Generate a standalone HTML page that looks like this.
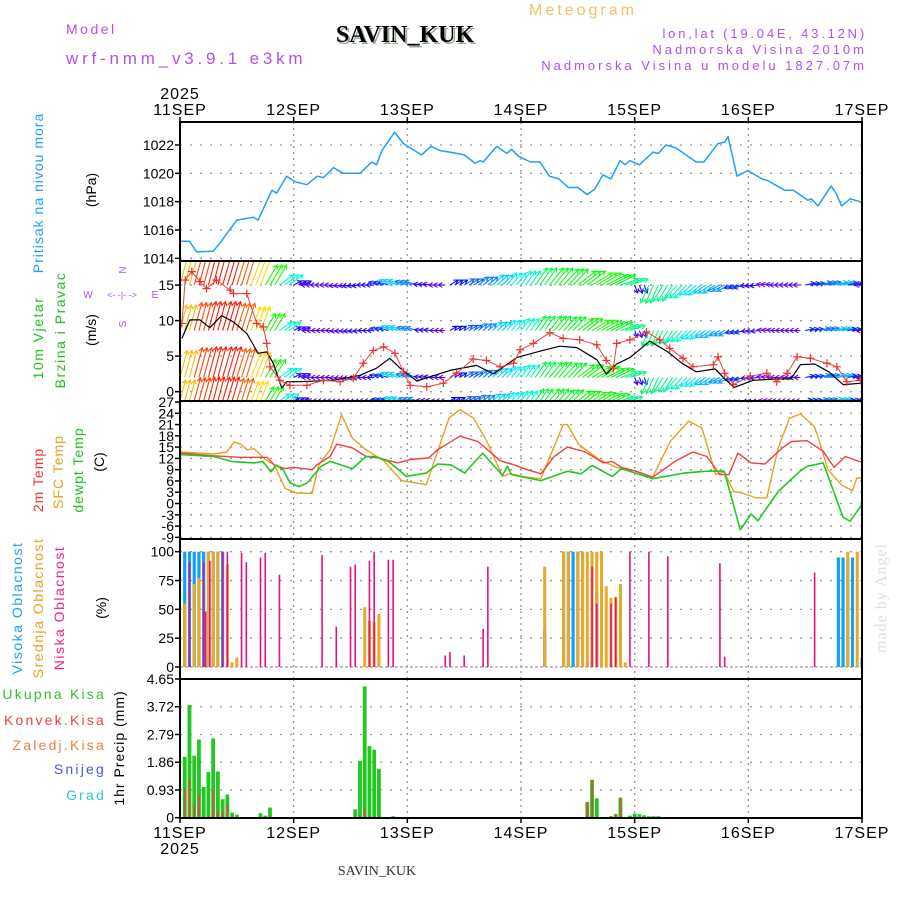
<!DOCTYPE html>
<html><head><meta charset="utf-8"><title>Meteogram SAVIN_KUK</title>
<style>
html,body{margin:0;padding:0;background:#fff;}
svg{display:block;font-family:"Liberation Sans",sans-serif;}
.serif{font-family:"Liberation Serif",serif;}
</style></head>
<body>
<svg id="chart" width="900" height="900" viewBox="0 0 900 900" xmlns="http://www.w3.org/2000/svg">
  <g>
    <text x="583" y="15" font-size="16" fill="#f0c070" text-anchor="middle" letter-spacing="3">Meteogram</text>
    <text x="66" y="34" font-size="14" fill="#b050f0" letter-spacing="2.5">Model</text>
    <text x="66" y="64" font-size="17" fill="#b050f0" letter-spacing="3.8">wrf-nmm_v3.9.1 e3km</text>
    <text class="serif" x="407" y="44" font-size="24" font-weight="bold" fill="#9a9" text-anchor="middle">SAVIN_KUK</text>
    <text class="serif" x="405" y="42" font-size="24" font-weight="bold" fill="#000" text-anchor="middle">SAVIN_KUK</text>
    <text x="867" y="38" font-size="13" fill="#b050f0" text-anchor="end" letter-spacing="2.8">lon,lat (19.04E, 43.12N)</text>
    <text x="867" y="54" font-size="13" fill="#b050f0" text-anchor="end" letter-spacing="3">Nadmorska Visina 2010m</text>
    <text x="867" y="70" font-size="13" fill="#b050f0" text-anchor="end" letter-spacing="3">Nadmorska Visina u modelu 1827.07m</text>
  </g>
  <g>
    <text transform="translate(43,193) rotate(-90)" font-size="14" fill="#20a0f0" text-anchor="middle" letter-spacing="1">Pritisak na nivou mora</text>
    <text transform="translate(96,190) rotate(-90)" font-size="14" fill="#000" text-anchor="middle">(hPa)</text>
    <text transform="translate(43,338) rotate(-90)" font-size="14" fill="#20c020" text-anchor="middle" letter-spacing="1.5">10m Vjetar</text>
    <text transform="translate(65,330) rotate(-90)" font-size="14" fill="#20c020" text-anchor="middle" letter-spacing="1.5">Brzina i Pravac</text>
    <text transform="translate(96,330) rotate(-90)" font-size="14" fill="#000" text-anchor="middle">(m/s)</text>
    <g fill="#b050f0" font-size="10" text-anchor="middle">
      <text x="88" y="298">W</text><text x="155" y="298">E</text>
      <text transform="translate(126,270) rotate(-90)">N</text>
      <text transform="translate(126,324) rotate(-90)">S</text>
      <text x="122" y="298" font-size="9">&lt;- -|- -&gt;</text>
    </g>
    <text transform="translate(43,480) rotate(-90)" font-size="14" fill="#f03030" text-anchor="middle" letter-spacing="1">2m Temp</text>
    <text transform="translate(63,472) rotate(-90)" font-size="14" fill="#e8a020" text-anchor="middle" letter-spacing="1">SFC Temp</text>
    <text transform="translate(83,470) rotate(-90)" font-size="14" fill="#20c020" text-anchor="middle" letter-spacing="1">dewpt Temp</text>
    <text transform="translate(104,462) rotate(-90)" font-size="14" fill="#000" text-anchor="middle">(C)</text>
    <text transform="translate(22,608) rotate(-90)" font-size="14" fill="#20a0f0" text-anchor="middle" letter-spacing="1.5">Visoka Oblacnost</text>
    <text transform="translate(43,608) rotate(-90)" font-size="14" fill="#e8a020" text-anchor="middle" letter-spacing="1.5">Srednja Oblacnost</text>
    <text transform="translate(64,608) rotate(-90)" font-size="14" fill="#f0208a" text-anchor="middle" letter-spacing="1.5">Niska Oblacnost</text>
    <text transform="translate(106,608) rotate(-90)" font-size="14" fill="#000" text-anchor="middle">(%)</text>
    <g font-size="14" text-anchor="end" letter-spacing="2.2">
      <text x="106" y="699" fill="#30c030">Ukupna  Kisa</text>
      <text x="106" y="725" fill="#f04040">Konvek.Kisa</text>
      <text x="106" y="750" fill="#f08040">Zaledj.Kisa</text>
      <text x="106" y="774" fill="#5050f0">Snijeg</text>
      <text x="106" y="800" fill="#30c8c8">Grad</text>
    </g>
    <text transform="translate(124,748) rotate(-90)" font-size="14" fill="#000" text-anchor="middle" letter-spacing="1">1hr Precip (mm)</text>
    <text class="serif" transform="translate(886,598) rotate(-90)" font-size="16" fill="#d8e4d8" text-anchor="middle" letter-spacing="1">made by Angel</text>
    <text class="serif" x="377" y="875" font-size="14" fill="#333" text-anchor="middle">SAVIN_KUK</text>
  </g>
  <g id="plot"></g>
</svg>
<script>
// ---------- data ----------
const dayLabels = ["11SEP","12SEP","13SEP","14SEP","15SEP","16SEP","17SEP"];
const yearLabel = "2025";
const pressureTicks = [1014,1016,1018,1020,1022];
const windTicks = [0,5,10,15];
const tempTicks = [-9,-6,-3,0,3,6,9,12,15,18,21,24,27];
const cloudTicks = [0,25,50,75,100];
const precipTicks = [0,0.93,1.86,2.79,3.72,4.65];

const pressureHours = [0,2,3.5,7,8.5,10,12,15.5,16.5,17.6,19.4,20.4,22.5,24.3,26.8,29,30.3,32.4,34.5,38,40.5,41.5,42.6,45.3,47.2,51,53,55,57,60,62.3,63.4,64,66.9,69,70,71.5,74,76,78,80,82,84,86,87.6,89.3,91,92.9,94,95,97,99.9,101,102.6,104.7,109,110.6,113.6,115,115.7,117.6,119.9,122.9,124,127.7,129.5,132.6,133.3,134.7,137.5,138.5,139.7,141.5,143.6,144];
const pressureVals = [1015.2,1015.2,1014.45,1014.5,1015.1,1015.8,1016.7,1016.9,1016.7,1017.5,1018.8,1018.6,1019.8,1019.4,1019.2,1019.8,1019.7,1020.4,1020.0,1020.0,1020.8,1020.6,1021.6,1022.9,1022.1,1021.3,1021.9,1021.6,1021.5,1021.3,1020.7,1020.9,1020.8,1021.9,1021.4,1021.7,1021.2,1020.8,1020.8,1019.8,1019.6,1019.0,1019.0,1018.5,1018.9,1019.9,1019.6,1020.9,1020.6,1020.9,1020.6,1021.5,1021.4,1022.0,1021.8,1020.8,1020.8,1022.1,1022.2,1022.6,1019.8,1020.2,1019.6,1019.5,1018.8,1018.8,1018.1,1018.2,1017.7,1019.1,1018.6,1017.7,1018.2,1018.0,1017.9];

const speedHours = [0.4,2.1,4.2,6.3,8.8,11.3,14.1,16.5,18.3,19.7,21.5,22.5,25.3,32.4,38,41.5,44.3,46.5,50,57,62.6,66.2,71.1,76,80.2,83.8,88,90,92.2,95,99.2,103,106,109,113,115,117,121,126,129,131,134,137,140,144];
const speedVals = [7.5,10.1,10.1,9.0,10.7,9.8,8.2,5.4,5.6,4.0,0.5,1.4,1.4,1.6,2.3,3.3,4.7,3.3,1.5,3.0,3.7,2.5,4.8,5.7,6.4,6.2,4.5,2.5,3.9,4.8,7.1,5.6,4.0,2.8,3.2,1.8,0.6,1.6,1.8,1.8,3.8,3.9,2.8,1.0,1.2];
const gustHours = [0.4,1.1,2.5,4.2,5.6,7.7,10.6,11.3,14.1,16.2,17.6,18.3,19,21.1,23.2,26.8,30.3,33.8,36.6,38.7,40.8,43,45.4,47.2,48.6,52.1,55.6,58.4,61.9,64.7,67.6,70.4,71.8,74.6,78.1,80.9,84.4,88,90,91.5,92.2,95,98.5,101.3,103.4,106.2,108.3,112.6,113.6,115,116.8,120.4,123.9,126,128.2,130.3,133.1,136.6,138.7,140.8,143.6];
const gustVals = [9.6,15.7,16.9,15.5,14.5,15.7,14.3,13.8,13.8,9.6,9.1,6.8,3.5,1.6,0.9,0.9,1.6,1.4,1.9,4.0,5.8,6.3,5.4,2.8,0.9,0.7,1.2,2.6,4.6,4.4,3.5,4.0,5.9,6.8,8.3,7.5,7.3,6.6,4.4,3.3,6.8,7.3,8.4,7.3,6.1,4.7,3.5,3.8,4.9,2.6,1.0,2.2,2.6,1.4,2.6,4.9,4.7,4.0,3.5,1.4,1.6];

const windHours = [0,3,6,9,12,15,18,21,24,27,30,33,36,39,42,45,48,51,54,57,60,63,66,69,72,75,78,81,84,87,90,93,96,99,102,105,108,111,114,117,120,123,126,129,132,135,138,141,144];
const windU = [8,9,9,10,10,11,12,14,8,-7,-7,-7,-8,-8,-10,-14,-12,-8,-7,8,10,10,11,10,10,12,14,15,18,20,20,18,3,-8,-10,-12,-12,-12,-12,-10,-8,-6,-7,-7,10,12,14,10,-7];
const windV = [30,33,34,34,32,28,20,10,4,0,0,-1,-1,0,3,5,4,1,0,5,6,8,10,12,14,17,17,16,14,12,10,6,-8,-18,-16,-13,-10,-8,-6,-3,-1,1,0,0,2,3,3,2,0];
const windRowBase = [15,8.6,2,-1.3];
const windRowScale = [1,0.85,0.9,0.7];

const t2Hours = [0,7.1,12.8,18.4,19.9,22.2,24.1,27.9,28.9,31.7,33.1,36.4,39.3,42.1,45.9,48.7,52.5,54.4,59.1,62.9,67.6,70.5,73.3,76.2,79,81.8,85.6,89.4,91.3,93.2,96,99.8,104.5,108.3,111.2,114,115.9,117.8,120.6,123.5,127.2,129.1,132.4,135.8,138.1,140.5,143.3,144];
const t2Vals = [13.4,12.7,12.3,12.3,10.3,9.3,9.6,9.0,10.3,12.5,15.8,14.8,12.5,12.1,10.8,11.7,12.1,14.3,17.9,16.5,11.4,10.3,9.0,7.9,12.5,15.0,13.7,10.8,11.2,9.6,8.7,7.0,11.2,13.7,12.5,7.7,7.7,13.4,10.8,10.5,14.8,16.5,16.7,13.9,9.6,12.5,11.2,11.1];
const sfcHours = [0,7.1,9.9,11.4,12.8,14.2,15.6,18,19.9,22.2,24.6,27.9,29.3,31.7,34.1,36.4,39.3,43,46.8,52,54.4,56.8,59.1,62,64.8,68.1,69.5,73.3,76.2,80.9,81.8,84.2,88.5,92.2,96,99.8,103.5,107.4,110.2,113.1,114.9,116.9,118.7,121.6,123.9,126.3,128.7,131,133.9,134.8,136.8,139.6,142,142.9,144];
const sfcVals = [13.7,13.2,13.7,16.4,15.8,14.3,14.6,11.7,10.3,4.0,2.8,2.7,10.3,14.3,23.6,17.4,14.3,11.4,6.1,5.0,13.9,22.7,25.0,22.7,16.5,7.2,7.9,7.0,6.6,21.0,21.0,15.7,11.7,9.6,8.7,7.0,16.5,21.9,20.1,7.7,8.4,3.2,2.8,1.5,1.5,14.8,22.7,23.8,20.5,17.4,9.0,5.0,3.4,6.8,6.8];
const dewHours = [0,7.1,10.9,15.6,17.5,19.2,20.3,21.8,23.2,25.1,26.9,29.8,31.7,36.4,39.3,41.2,44,47.8,52,54.4,57.2,60.1,63.9,68.1,69.1,70,76.2,81.8,84.7,87,91.3,93.2,99.8,106.4,111.2,114.9,118.3,120.6,122,126.3,131,132.4,135.8,140,141.5,144];
const dewVals = [13.0,12.5,11.2,10.8,11.2,8.4,10.2,9.0,5.5,4.5,5.5,9.9,11.2,9.3,12.5,12.5,11.2,7.2,8.1,10.5,10.3,8.1,13.4,7.5,9.9,7.7,6.1,8.6,7.9,10.1,7.2,9.3,6.6,8.1,8.6,8.6,-7.0,-2.8,-4.6,3.2,8.7,9.9,10.8,-3.7,-4.7,-0.3];

const highCloudHours = [1,2,3,4,5,6,7,8,9,77,81,82,83,84,85,86,87,88,89,139,140,141,142,144];
const highCloudVals = [100,100,100,100,100,100,100,100,100,32,100,100,100,100,100,4,10,65,8,95,95,95,95,8];
const midCloudHours = [1,3,4,6,7,8,10,11,12,39,40,41,42,77,81,82,84,85,86,87,88,89,90,91,92,93,94,141,143];
const midCloudVals = [55,72,77,100,100,100,89,4,8,52,40,39,46,87,100,100,100,100,100,100,100,100,70,60,61,72,4,100,100];
const lowCloudHours = [2,5,5.4,6.3,9,10,13,14,17,18,21,30,33,36,37,40,41,44,45,56,57,60,64,65,87,88,91,92,95,99,103,114,115,134];
const lowCloudVals = [91,91,48,92,100,100,99,91,95,99,80,97,35,87,89,92,100,93,93,10,13,10,33,87,87,55,55,60,100,100,96,90,9,82];

const rainHours = [1,2,3,4,5,6,7,8,9,10,11,12,17,18,19,37,38,39,40,41,42,45,86,87,88,91,92,93,95,96,97,98,99,100,101];
const rainTotal = [2.04,3.78,2.08,2.62,1.03,1.53,2.66,1.55,0.62,0.78,0.17,0.1,0.15,0.07,0.34,0.28,1.91,4.4,2.4,2.28,1.63,0.05,0.52,1.27,0.65,0.05,0.12,0.67,0.07,0.14,0.12,0.08,0.05,0.05,0.05];
const rainConv = [0.95,1.3,0.45,0.78,0,0.05,0.95,0.22,0.2,0.45,0,0,0,0,0,0,0.05,0.3,0.05,0.05,0,0,0.52,1.27,0,0.05,0.12,0.67,0,0,0,0,0,0,0];

// ---------- scales ----------
const X0=180, X1=862, HOURS=144;
const xS = t => X0 + t*(X1-X0)/HOURS;
const P = {top:122, bot:261};
const yP = p => 258.3 - (p-1014)*14.16;
const W = {top:261, bot:401};
const yW = s => 391.7 - s*7.11;
const T = {top:401, bot:539};
const yT = v => 402 + (27-v)*3.76;
const C = {top:539, bot:679};
const yC = c => 667 - c*1.153;
const R = {top:679, bot:818};
const yR = r => 817.7 - r*29.83;

const NS="http://www.w3.org/2000/svg";
const plot=document.getElementById('plot');
function mk(tag, attrs, parent){
  const e=document.createElementNS(NS,tag);
  for(const k in attrs) e.setAttribute(k,attrs[k]);
  (parent||plot).appendChild(e);
  return e;
}
const defs=mk('defs',{});
[['clipP',P],['clipW',W],['clipT',T],['clipC',C],['clipR',R]].forEach(([id,pn])=>{
  const cp=mk('clipPath',{id:id},defs);
  mk('rect',{x:X0,y:pn.top,width:X1-X0,height:pn.bot-pn.top},cp);
});

function panelGrid(pn, ticks, yf, fmt, name){
  const g=mk('g',{});
  
  
  ticks.forEach(v=>{
    const y=yf(v);
    mk('line',{x1:X0,x2:X1,y1:y,y2:y,stroke:'#999','stroke-width':1.3,'stroke-dasharray':'2,8'},g);
    mk('line',{x1:X0-5,x2:X0,y1:y,y2:y,stroke:'#000','stroke-width':1.5},g);
    const tx=mk('text',{x:X0-6,y:y+5,'font-size':14,'text-anchor':'end',fill:'#000'},g);
    tx.textContent=fmt(v);
    
    
  });
  for(let d=1; d<dayLabels.length-1; d++){
    const x=xS(d*24);
    mk('line',{x1:x,x2:x,y1:pn.top,y2:pn.bot,stroke:'#999','stroke-width':1.3,'stroke-dasharray':'2,4'},g);
  }
}
panelGrid(P,pressureTicks,yP,v=>String(v),'pressure');
panelGrid(W,windTicks,yW,v=>String(v),'wind');
panelGrid(T,tempTicks,yT,v=>String(v),'temp');
panelGrid(C,cloudTicks,yC,v=>String(v),'cloud');
panelGrid(R,precipTicks,yR,v=>v===0?'0':v.toFixed(2),'precip');

function line(hours, vals, yf, color, clip, name, w){
  let d='';
  hours.forEach((h,i)=>{ d+=(i?'L':'M')+xS(h).toFixed(1)+','+yf(vals[i]).toFixed(1); });
  const p=mk('path',{d:d,fill:'none',stroke:color,'stroke-width':w||1.4,'clip-path':'url(#'+clip+')','stroke-linejoin':'round'});
  
  
  return p;
}
line(pressureHours,pressureVals,yP,'#20a0f8','clipP','pressure-line',1.5);

// wind arrows (each 3-hourly value drawn for its 3 hourly slots)
function windColor(m){
  let h=270-(m-6)/30*270; h=Math.max(0,Math.min(270,h));
  return 'hsl('+h.toFixed(0)+',95%,50%)';
}
const wg=mk('g',{'clip-path':'url(#clipW)'});


windRowBase.forEach((base,r)=>{
  windHours.forEach((h,i)=>{
    const sc=windRowScale[r];
    const u=windU[i]*sc, v=windV[i]*sc;
    const m=Math.hypot(windU[i],windV[i]);
    const col=windColor(m);
    for(let k=0;k<3;k++){
      if(h+k>HOURS) break;
      const x0=xS(h+k), y0=yW(base), x1=x0+u, y1=y0-v;
      const ag=mk('g',{stroke:col,'stroke-width':1.1,fill:'none'},wg);
      
      
      mk('line',{x1:x0,y1:y0,x2:x1,y2:y1},ag);
      const L=Math.hypot(u,v)||1, ux=u/L, uy=-v/L, hs=4;
      const ax=x1-ux*hs, ay=y1-uy*hs;
      mk('path',{d:'M'+(ax-uy*hs*0.6)+','+(ay+ux*hs*0.6)+'L'+x1+','+y1+'L'+(ax+uy*hs*0.6)+','+(ay-ux*hs*0.6)},ag);
    }
  });
});
line(speedHours,speedVals,yW,'#000','clipW','wind-speed-line',1.2);
line(gustHours,gustVals,yW,'#f04040','clipW','wind-gust-line',1);
const gg=mk('g',{stroke:'#f03030','stroke-width':1.2,'clip-path':'url(#clipW)'});


gustHours.forEach((h,i)=>{
  const x=xS(h), y=yW(gustVals[i]);
  const pm=mk('path',{d:'M'+(x-4)+','+y+'h8M'+x+','+(y-4)+'v8'},gg);
  
  
});

line(sfcHours,sfcVals,yT,'#e8a020','clipT','sfc-temp-line',1.4);
line(t2Hours,t2Vals,yT,'#f04040','clipT','temp-2m-line',1.4);
line(dewHours,dewVals,yT,'#20c820','clipT','dewpoint-line',1.6);

function bars(hours, vals, yf, base, color, off, w, clip, name){
  const g=mk('g',{fill:color,'clip-path':'url(#'+clip+')'});
  
  
  hours.forEach((h,i)=>{
    const x=xS(h)+off, y=yf(vals[i]);
    const b=mk('rect',{x:x-w/2,y:y,width:w,height:Math.max(0,yf(base)-y)},g);
    
    
  });
}
mk('line',{x1:X0,x2:X1,y1:yC(0),y2:yC(0),stroke:'#c8a0c0','stroke-width':1.5,'stroke-dasharray':'3,2'});
bars(highCloudHours,highCloudVals,yC,0,'#10a0f8',0,3.2,'clipC','high-cloud');
bars(midCloudHours,midCloudVals,yC,0,'#e8a828',0,3,'clipC','mid-cloud');
bars(lowCloudHours,lowCloudVals,yC,0,'#e8107f',0,1.6,'clipC','low-cloud');

bars(rainHours,rainTotal,yR,0,'#20c820',0,3.8,'clipR','total-rain');
bars(rainHours,rainConv,yR,0,'#f04040',0,1.5,'clipR','convective-rain');

[P,W,T,C,R].forEach((pn,i)=>{
  const r=mk('rect',{x:X0,y:pn.top,width:X1-X0,height:pn.bot-pn.top,fill:'none',stroke:'#000','stroke-width':2});
  
  
});
const ag=mk('g',{});


dayLabels.forEach((lab,d)=>{
  const x=xS(d*24);
  mk('line',{x1:x,x2:x,y1:P.top-5,y2:P.top,stroke:'#000','stroke-width':1.5},ag);
  mk('line',{x1:x,x2:x,y1:R.bot,y2:R.bot+5,stroke:'#000','stroke-width':1.5},ag);
  const t1=mk('text',{x:x,y:115,'font-size':16,'text-anchor':'middle','letter-spacing':1},ag);
  t1.textContent=lab;
  
  
  const t2=mk('text',{x:x,y:838,'font-size':16,'text-anchor':'middle','letter-spacing':1},ag);
  t2.textContent=lab;
  
  
});
const y1=mk('text',{x:X0,y:99,'font-size':16,'text-anchor':'middle','letter-spacing':1},ag);
y1.textContent=yearLabel;


const y2=mk('text',{x:X0,y:854,'font-size':16,'text-anchor':'middle','letter-spacing':1},ag);
y2.textContent=yearLabel;


</script>
</body></html>
